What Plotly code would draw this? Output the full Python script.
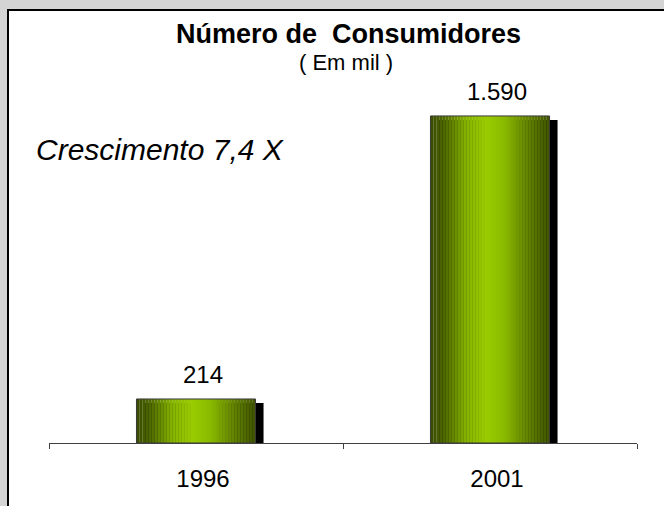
import plotly.graph_objects as go

# ---- data ----
categories = ["1996", "2001"]
consumers = [214, 1590]          # em mil
value_labels = ["214", "1.590"]
title_text = "<b>Número de\u00a0 Consumidores</b>"
subtitle_text = "( Em mil )"
note_text = "<i>Crescimento 7,4 X</i>"

# ---- layout geometry (pixels) ----
W, H = 664, 506
L, R, T, B = 49, 27, 60, 63
PW, PH = W - L - R, H - T - B
YMAX = 1862
FONT = "Liberation Sans, Arial, sans-serif"

def px_x(px):
    return (px - L) / PW

def px_y(py):
    return (H - B - py) / PH

bar_w = 0.405
shadow_dx = 8 / PW * 2          # category units (2 categories across PW)
shadow_dy = 4 / PH * YMAX       # data units

# gradient stops across bar width
stops = [(0.0, (0x38, 0x4a, 0x00)), (0.12, (0x50, 0x6b, 0x00)), (0.3, (0x86, 0xb4, 0x00)),
         (0.47, (0x9a, 0xcc, 0x00)), (0.62, (0x8a, 0xba, 0x00)), (0.8, (0x66, 0x88, 0x00)),
         (1.0, (0x40, 0x54, 0x00))]

def grad(t):
    for (t0, c0), (t1, c1) in zip(stops[:-1], stops[1:]):
        if t0 <= t <= t1:
            f = (t - t0) / (t1 - t0) if t1 > t0 else 0
            return "rgb(%d,%d,%d)" % tuple(round(a + (b - a) * f) for a, b in zip(c0, c1))
    return "rgb(64,84,0)"

fig = go.Figure()

# shadow
fig.add_trace(go.Bar(
    x=categories, y=consumers, base=[-shadow_dy] * len(consumers),
    width=bar_w, offset=-bar_w / 2 + shadow_dx,
    marker=dict(color="black", line=dict(width=0)),
    cliponaxis=False, hoverinfo="skip", showlegend=False))

# gradient stripes
N = 40
sw = bar_w / N
for i in range(N):
    fig.add_trace(go.Bar(
        x=categories, y=consumers,
        width=sw * 1.05, offset=-bar_w / 2 + i * sw,
        marker=dict(color=grad((i + 0.5) / N), line=dict(width=0)),
        hoverinfo="skip", showlegend=False))

# outline
fig.add_trace(go.Bar(
    x=categories, y=consumers, width=bar_w, offset=-bar_w / 2,
    marker=dict(color="rgba(0,0,0,0)", line=dict(color="#3a3a3a", width=1)),
    hoverinfo="skip", showlegend=False))

annotations = []
for idx, (v, lab) in enumerate(zip(consumers, value_labels)):
    annotations.append(dict(x=idx, y=v, text=lab, showarrow=False, xref="x", yref="y",
                            yanchor="bottom", yshift=9, xshift=7,
                            font=dict(family=FONT, size=24, color="black")))

annotations += [
    dict(x=px_x(348), y=px_y(34), xref="paper", yref="paper", text=title_text,
         showarrow=False, xanchor="center", yanchor="middle",
         font=dict(family=FONT, size=27, color="black")),
    dict(x=px_x(346), y=px_y(62), xref="paper", yref="paper", text=subtitle_text,
         showarrow=False, xanchor="center", yanchor="middle",
         font=dict(family=FONT, size=22, color="black")),
    dict(x=px_x(34), y=px_y(149), xref="paper", yref="paper", text=note_text,
         showarrow=False, xanchor="left", yanchor="middle",
         font=dict(family=FONT, size=30, color="black")),
]

shapes = [dict(type="rect", xref="paper", yref="paper",
               x0=px_x(8), x1=px_x(720), y0=px_y(560), y1=px_y(10),
               fillcolor="white", line=dict(color="black", width=2), layer="below")]

fig.update_layout(
    width=W, height=H,
    margin=dict(l=L, r=R, t=T, b=B, pad=0),
    paper_bgcolor="#d4d4d4", plot_bgcolor="rgba(0,0,0,0)",
    barmode="overlay", showlegend=False, hovermode=False,
    annotations=annotations, shapes=shapes,
    xaxis=dict(type="category", range=[-0.5, 1.5], autorange=False,
               categoryorder="array", categoryarray=categories,
               showline=True, linecolor="#404040", linewidth=1,
               ticks="outside", tickson="boundaries", ticklen=5, tickcolor="#404040",
               tickwidth=1, showgrid=False, zeroline=False, layer="below traces",
               tickangle=0,
               tickfont=dict(family=FONT, size=24, color="black"),
               ticklabelstandoff=14, ticklabelshift=7),
    yaxis=dict(range=[0, YMAX], autorange=False, visible=False, showgrid=False, zeroline=False),
)

fig.write_html("out.html",
               config={"displayModeBar": False, "staticPlot": True},
               post_script="document.body.style.margin='0';document.body.style.padding='0';"
                           "document.body.style.overflow='hidden';")
